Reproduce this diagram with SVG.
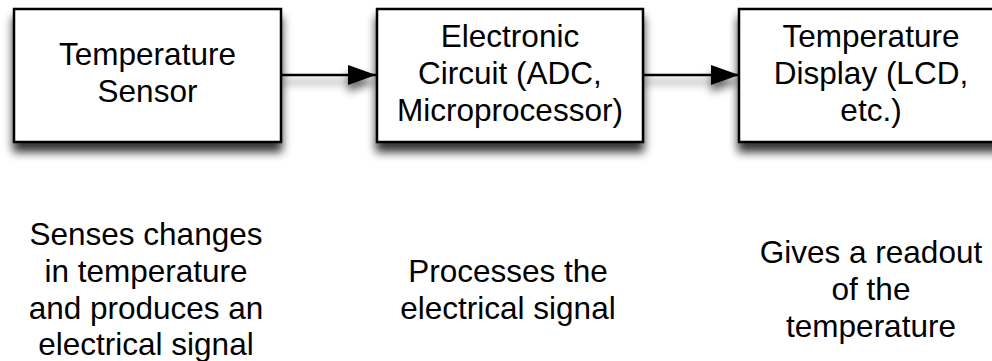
<svg xmlns="http://www.w3.org/2000/svg" width="992" height="361" viewBox="0 0 992 361">
<defs>
<filter id="shadow" x="-20%" y="-30%" width="140%" height="180%">
<feGaussianBlur in="SourceAlpha" stdDeviation="5"/>
<feOffset dx="0" dy="9" result="b"/>
<feComponentTransfer><feFuncA type="linear" slope="0.8"/></feComponentTransfer>
<feMerge><feMergeNode/><feMergeNode in="SourceGraphic"/></feMerge>
</filter>
<filter id="lshadow" filterUnits="userSpaceOnUse" x="0" y="0" width="992" height="361">
<feGaussianBlur in="SourceAlpha" stdDeviation="4"/>
<feOffset dx="0" dy="7" result="b"/>
<feComponentTransfer><feFuncA type="linear" slope="0.6"/></feComponentTransfer>
<feMerge><feMergeNode/><feMergeNode in="SourceGraphic"/></feMerge>
</filter>
<marker id="arrow" markerWidth="28" markerHeight="20" refX="28" refY="10" orient="auto" markerUnits="userSpaceOnUse">
<path d="M0,0 L28,10 L0,20 Z" fill="#000"/>
</marker>
</defs>
<style>
.box{fill:#fff;stroke:#000;stroke-width:2.5}
.t{font-family:"Liberation Sans",Arial,Helvetica,sans-serif;font-size:31.5px;fill:#000;text-anchor:middle}
.c{stroke:#000;stroke-width:2.5;fill:none}
</style>
<rect width="992" height="361" fill="#fff"/>
<g id="connectors" filter="url(#lshadow)">
<line class="c" x1="281" y1="75" x2="376" y2="75" marker-end="url(#arrow)"/>
<line class="c" x1="643" y1="75" x2="739" y2="75" marker-end="url(#arrow)"/>
</g>
<g id="sensor">
<rect class="box" x="14" y="9" width="267" height="133" filter="url(#shadow)"/>
<text class="t" x="147.5" y="65">Temperature</text>
<text class="t" x="147.5" y="102">Sensor</text>
</g>
<g id="circuit">
<rect class="box" x="377" y="9" width="266" height="133" filter="url(#shadow)"/>
<text class="t" x="510" y="47">Electronic</text>
<text class="t" x="510" y="84">Circuit (ADC,</text>
<text class="t" x="510" y="121">Microprocessor)</text>
</g>
<g id="display">
<rect class="box" x="739" y="9" width="265" height="133" filter="url(#shadow)"/>
<text class="t" x="871" y="47">Temperature</text>
<text class="t" x="871" y="84">Display (LCD,</text>
<text class="t" x="871" y="121">etc.)</text>
</g>
<g id="desc-sensor">
<text class="t" x="146" y="245">Senses changes</text>
<text class="t" x="146" y="282">in temperature</text>
<text class="t" x="146" y="319">and produces an</text>
<text class="t" x="146" y="355">electrical signal</text>
</g>
<g id="desc-circuit">
<text class="t" x="508" y="282">Processes the</text>
<text class="t" x="508" y="319">electrical signal</text>
</g>
<g id="desc-display">
<text class="t" x="871" y="263">Gives a readout</text>
<text class="t" x="871" y="300">of the</text>
<text class="t" x="871" y="337">temperature</text>
</g>
</svg>
